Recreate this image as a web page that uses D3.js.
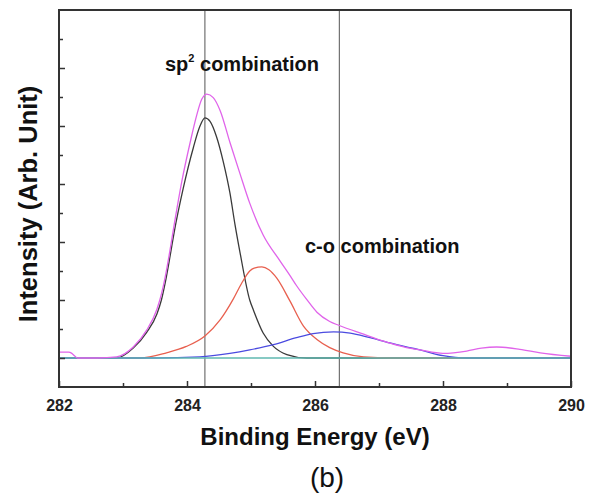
<!DOCTYPE html>
<html>
<head>
<meta charset="utf-8">
<script src="https://cdn.jsdelivr.net/npm/d3@7"></script>
<style>
  body { margin: 0; background: #fff; }
  text { font-family: "Liberation Sans", Arial, sans-serif; }
</style>
</head>
<body>
<div id="chart"></div>
<script>
// data (binding energy in eV, intensity in arb. units)
var envelopeE = [282.00, 282.15, 282.20, 282.25, 282.29, 282.60, 282.90, 283.16, 283.37, 283.53, 283.60, 283.66, 283.73, 283.80, 283.92, 284.05, 284.15, 284.23, 284.31, 284.41, 284.52, 284.67, 284.83, 284.98, 285.19, 285.45, 285.61, 285.71, 285.87, 286.03, 286.23, 286.38, 286.76, 287.07, 287.43, 287.64, 288.00, 288.37, 288.60, 288.84, 289.20, 289.52, 290.00];
var envelopeI = [0.10, 0.10, 0.08, 0.03, 0.00, 0.00, 0.02, 0.19, 0.48, 0.84, 1.10, 1.40, 1.83, 2.30, 3.05, 3.72, 4.18, 4.46, 4.55, 4.49, 4.26, 3.72, 3.17, 2.67, 2.12, 1.68, 1.42, 1.25, 1.01, 0.79, 0.63, 0.56, 0.41, 0.29, 0.18, 0.14, 0.08, 0.12, 0.17, 0.19, 0.15, 0.09, 0.03];

var sp2E = [282.00, 282.90, 283.16, 283.37, 283.53, 283.60, 283.66, 283.73, 283.80, 283.94, 284.10, 284.20, 284.28, 284.36, 284.46, 284.57, 284.67, 284.75, 284.83, 284.98, 285.04, 285.19, 285.35, 285.56, 285.87, 290.00];
var sp2I = [0.00, 0.00, 0.17, 0.44, 0.76, 1.00, 1.30, 1.72, 2.17, 2.92, 3.63, 3.99, 4.14, 4.08, 3.82, 3.37, 2.85, 2.30, 1.81, 1.00, 0.82, 0.43, 0.20, 0.06, 0.00, 0.00];

var sp3E = [282.00, 283.27, 283.68, 283.99, 284.28, 284.52, 284.72, 284.85, 284.98, 285.05, 285.17, 285.28, 285.40, 285.61, 285.82, 286.03, 286.23, 286.44, 286.76, 287.20, 290.00];
var sp3I = [0.00, 0.00, 0.09, 0.20, 0.38, 0.66, 1.01, 1.28, 1.50, 1.55, 1.57, 1.52, 1.38, 0.98, 0.55, 0.32, 0.18, 0.09, 0.02, 0.00, 0.00];

var coE = [282.00, 283.50, 284.20, 284.67, 284.98, 285.35, 285.71, 285.97, 286.29, 286.55, 286.86, 287.17, 287.48, 287.64, 288.00, 288.37, 290.00];
var coI = [0.00, 0.00, 0.02, 0.08, 0.14, 0.23, 0.35, 0.42, 0.45, 0.43, 0.35, 0.26, 0.18, 0.14, 0.04, 0.00, 0.00];

var baseE = [282.00, 290.00];
var baseI = [0.00, 0.00];

var markerE = [284.28, 286.38];
var xTicks = [282, 284, 286, 288, 290];
var xMinor = [283, 285, 287, 289];
var yTicks = [0, 1, 2, 3, 4, 5];
var yMinor = [0.5, 1.5, 2.5, 3.5, 4.5, 5.5];

var width = 594, height = 500;
// plot box (avoid "top", it is window.top)
var padLeft = 59, padRight = 571, padTop = 10, padBottom = 387;

var svg = d3.select("#chart").append("svg").attr("width", width).attr("height", height);

var x = d3.scaleLinear().domain([282, 290]).range([padLeft, padRight]);
var y = d3.scaleLinear().domain([-0.5, 6]).range([padBottom, padTop]);

function zip(a, b) { return a.map(function(v, i) { return [v, b[i]]; }); }

var line = d3.line()
  .x(function(d) { return x(d[0]); })
  .y(function(d) { return y(d[1]); })
  .curve(d3.curveMonotoneX);

// marker lines
svg.selectAll(".marker").data(markerE).enter().append("line")
  .attr("x1", function(d) { return x(d); }).attr("x2", function(d) { return x(d); })
  .attr("y1", padTop).attr("y2", padBottom)
  .attr("stroke", "#555").attr("stroke-width", 1);

// curves
var curves = [
  { pts: zip(sp2E, sp2I), color: "#3a3a3a" },
  { pts: zip(sp3E, sp3I), color: "#e8604f" },
  { pts: zip(coE, coI), color: "#4b4be0" },
  { pts: zip(baseE, baseI), color: "#5fb9b0" },
  { pts: zip(envelopeE, envelopeI), color: "#e064ea" }
];
curves.forEach(function(c) {
  svg.append("path").datum(c.pts)
    .attr("d", line)
    .attr("fill", "none")
    .attr("stroke", c.color)
    .attr("stroke-width", 1.3);
});

// axes, ticks pointing inward
var xAxis = svg.append("g").attr("transform", "translate(0," + padBottom + ")")
  .call(d3.axisBottom(x).tickValues(xTicks).tickSize(-6).tickPadding(13).tickFormat(d3.format("d")));
svg.append("g").attr("transform", "translate(0," + padBottom + ")")
  .call(d3.axisBottom(x).tickValues(xMinor).tickSize(-4).tickFormat(""));
svg.append("g").attr("transform", "translate(" + padLeft + ",0)")
  .call(d3.axisLeft(y).tickValues(yTicks).tickSize(-6).tickFormat(""));
svg.append("g").attr("transform", "translate(" + padLeft + ",0)")
  .call(d3.axisLeft(y).tickValues(yMinor).tickSize(-4).tickFormat(""));

svg.selectAll(".domain").remove();
svg.selectAll(".tick line").attr("stroke", "#333").attr("stroke-width", 1.5);
xAxis.selectAll(".tick text")
  .attr("font-family", "Liberation Sans, Arial, sans-serif")
  .attr("font-size", 16).attr("font-weight", "bold").attr("fill", "#222");

// frame
svg.append("rect")
  .attr("x", padLeft).attr("y", padTop)
  .attr("width", padRight - padLeft).attr("height", padBottom - padTop)
  .attr("fill", "none").attr("stroke", "#333").attr("stroke-width", 2);

// annotations
var sp2 = svg.append("text").attr("x", 165).attr("y", 71)
  .attr("font-size", 20).attr("font-weight", "bold").attr("fill", "#111");
sp2.append("tspan").text("sp");
sp2.append("tspan").attr("font-size", 11).attr("dy", -9).text("2");
sp2.append("tspan").attr("dy", 9).text(" combination");

svg.append("text").attr("x", 305).attr("y", 253)
  .attr("font-size", 20).attr("font-weight", "bold").attr("fill", "#111")
  .text("c-o combination");

// axis titles
svg.append("text")
  .attr("transform", "translate(37,204)rotate(-90)")
  .attr("text-anchor", "middle")
  .attr("font-size", 25.5).attr("font-weight", "bold").attr("fill", "#111")
  .text("Intensity (Arb. Unit)");

svg.append("text")
  .attr("x", 315).attr("y", 445)
  .attr("text-anchor", "middle")
  .attr("font-size", 24).attr("font-weight", "bold").attr("fill", "#111")
  .text("Binding Energy (eV)");

svg.append("text")
  .attr("x", 327).attr("y", 487)
  .attr("text-anchor", "middle")
  .attr("font-size", 28).attr("fill", "#111")
  .text("(b)");
</script>
</body>
</html>
